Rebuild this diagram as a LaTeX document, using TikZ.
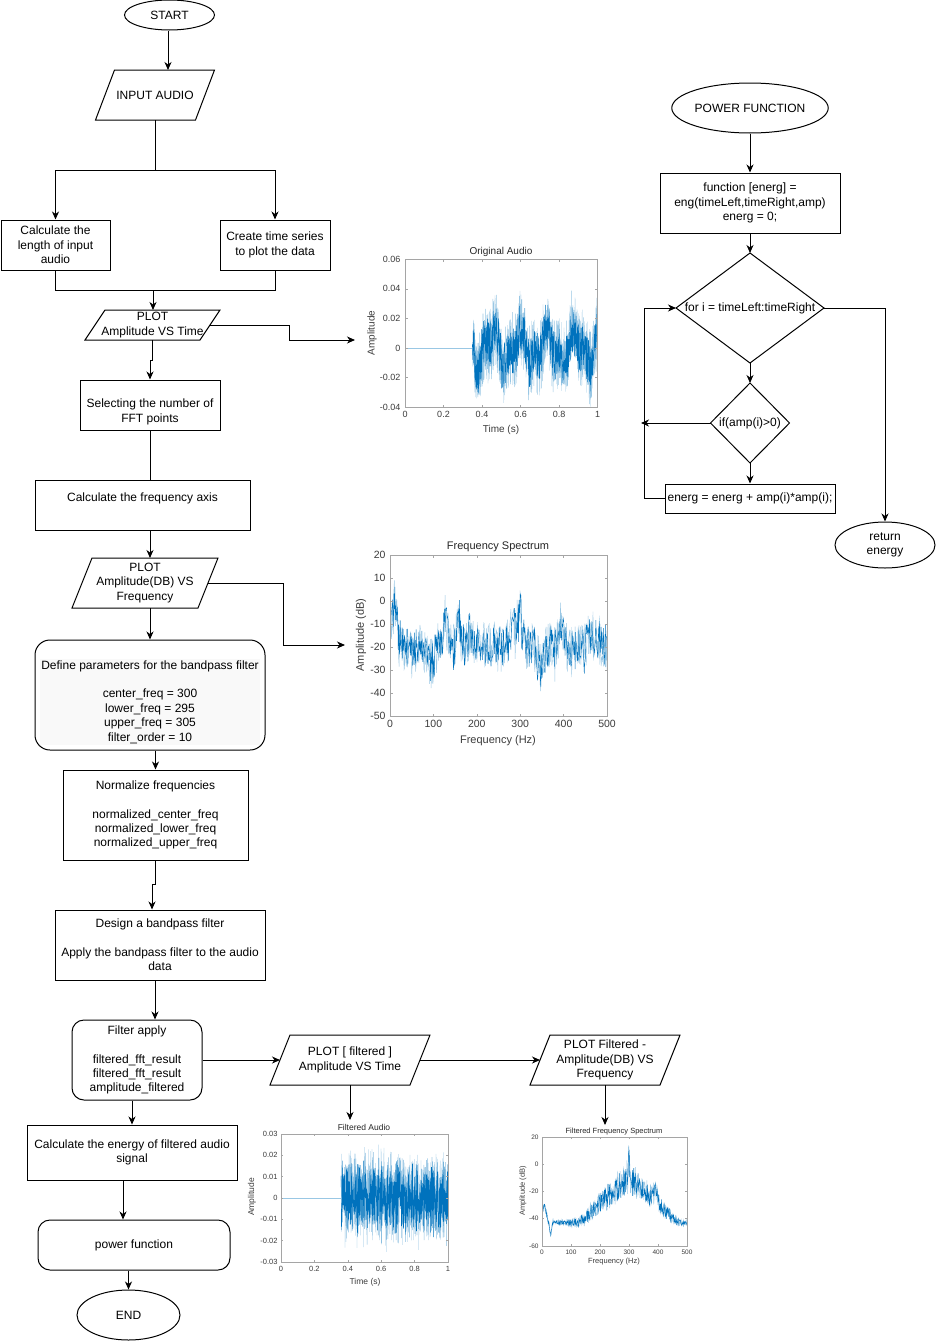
\documentclass[tikz,border=0pt]{standalone}
\usepackage{fontspec}
\setmainfont{Liberation Sans}
\usetikzlibrary{shapes.geometric,arrows.meta,calc}
\definecolor{sig}{RGB}{0,114,189}
\definecolor{axc}{RGB}{165,165,165}
\definecolor{tkc}{RGB}{60,60,60}
\pgfmathdeclarefunction{bump}{3}{\pgfmathparse{max(0,1-abs(#1-#2)/#3)}}
\newcommand\parashape[7]{%
  \draw ({#2-#4/2+#6/2},{#3-#5/2}) -- ({#2+#4/2+#6/2},{#3-#5/2}) -- ({#2+#4/2-#6/2},{#3+#5/2}) -- ({#2-#4/2-#6/2},{#3+#5/2}) -- cycle;
  \node[txt] (#1) at (#2,#3) {#7};
  \coordinate (#1-n) at (#2,{#3-#5/2});
  \coordinate (#1-s) at (#2,{#3+#5/2});
  \coordinate (#1-e) at ({#2+#4/2},#3);
  \coordinate (#1-w) at ({#2-#4/2},#3);
}
\newcommand\diashape[6]{%
  \draw (#2,{#3-#5}) -- ({#2+#4},#3) -- (#2,{#3+#5}) -- ({#2-#4},#3) -- cycle;
  \node[txt] (#1) at (#2,#3) {#6};
  \coordinate (#1-n) at (#2,{#3-#5});
  \coordinate (#1-s) at (#2,{#3+#5});
  \coordinate (#1-e) at ({#2+#4},#3);
  \coordinate (#1-w) at ({#2-#4},#3);
}
\begin{document}
\begin{tikzpicture}[x=1pt,y=-1pt, line width=1pt,
  arr/.style={-{Stealth[length=8pt,width=7pt,inset=2.5pt]}},
  txt/.style={align=center, inner sep=0pt, font=\fontsize{12}{14.4}\selectfont},
  box/.style={draw, rectangle, align=center, inner sep=0pt, font=\fontsize{12}{14.4}\selectfont},
  oval/.style={draw, ellipse, align=center, inner sep=0pt, font=\fontsize{12}{14.4}\selectfont},
  tk/.style={font=\fontsize{#1}{#1}\selectfont, text=tkc, inner sep=1pt},
  lab/.style={font=\fontsize{#1}{#1}\selectfont, text=tkc, inner sep=0pt},
  ttl/.style={font=\fontsize{#1}{#1}\selectfont, text=black!85, inner sep=0pt},
  axl/.style={axc, line width=0.6pt},
  tkl/.style={axc, line width=0.5pt}]
\useasboundingbox (0,0) rectangle (936,1341);
\fill[white] (0,0) rectangle (936,1341);

% ---------------- main flow ----------------
\node[oval, minimum width=90, minimum height=30] (start) at (169.5,15) {START};
\parashape{in}{155}{95}{100}{50}{19}{INPUT AUDIO}
\coordinate (split) at (155,170);
\node[box, minimum width=109, minimum height=50] (len) at (55.5,245) {Calculate the\\length of input\\audio};
\node[box, minimum width=110, minimum height=50] (ts) at (275,245) {Create time series\\to plot the data};
\coordinate (merge) at (153,290);
\parashape{p1}{152.5}{325}{115}{30}{20}{PLOT\\Amplitude VS Time}
\coordinate (g1in) at (355,340);
\node[box, minimum width=140, minimum height=50] (fft) at (150,405) {};
\node[txt] (fftt) at (150,412) {Selecting the number of\\FFT points};
\node[box, minimum width=215, minimum height=50] (fa) at (142.5,505) {};
\node[txt] (fat) at (142.5,498) {Calculate the frequency axis};
\parashape{p2}{145}{583}{126}{50}{20}{PLOT\\Amplitude(DB) VS\\Frequency}
\coordinate (g2in) at (345,645);
\node[txt, fill=black!2.5, inner sep=1.5pt] (deft) at (150,702) {Define parameters for the bandpass filter\\~\\center\_freq = 300\\lower\_freq = 295\\upper\_freq = 305\\filter\_order = 10};
\node[draw, rounded corners=15, minimum width=230, minimum height=110, inner sep=0pt] (def) at (150,695) {};
\node[box, minimum width=185, minimum height=90] (norm) at (155.5,815) {Normalize frequencies\\~\\normalized\_center\_freq\\normalized\_lower\_freq\\normalized\_upper\_freq};
\node[box, minimum width=210, minimum height=70] (design) at (160,945) {Design a bandpass filter\\~\\Apply the bandpass filter to the audio\\data};
\node[box, rounded corners=12, minimum width=130, minimum height=80] (fap) at (137,1060) {Filter apply\\~\\filtered\_fft\_result\\filtered\_fft\_result\\amplitude\_filtered};
\parashape{p3}{350}{1060}{140}{50}{20}{PLOT [ filtered ]\\Amplitude VS Time}
\parashape{p4}{605}{1060}{130}{50}{20}{PLOT Filtered -\\Amplitude(DB) VS\\Frequency}
\coordinate (g3in) at (350,1120);
\coordinate (g4in) at (605,1125);
\node[box, minimum width=210, minimum height=55] (en) at (132,1152.5) {Calculate the energy of filtered audio\\signal};
\node[box, rounded corners=12, minimum width=192, minimum height=50] (pw) at (134,1245) {power function};
\node[oval, minimum width=103, minimum height=50] (end) at (128.5,1315) {END};

% connectors main
\draw[arr] ($(start.south)+(-1.5,0)$) -- ($(start.south |- in-n)+(-1.5,0)$);
\draw (in-s) -- (split);
\draw[arr] (split) -| (len.north);
\draw[arr] (split) -| (ts.north);
\draw (len.south) |- (ts.south |- merge) -- (ts.south);
\draw[arr] (merge) -- (merge |- p1-n);
\draw[arr] (p1-e) -- ($(p1-e)+(79,0)$) |- (g1in);
\draw[arr] (p1-s) -- ++(0,20) -| (fft.north);
\draw (fft.south) -- (fft.south |- fa.north);
\draw[arr] (fft.south |- fa.south) -- (fft.south |- p2-n);
\draw[arr] (p2-e) -- ($(p2-e)+(75,0)$) |- (g2in);
\draw[arr] (fft.south |- p2-s) -- (fft.south |- def.north);
\draw[arr] (norm.north |- def.south) -- (norm.north);
\draw[arr] (norm.south) -- ++(0,24) -| ($(design.north)+(-8,0)$);
\draw[arr] ($(design.south)+(-5,0)$) -- ($(fap.north)+(18,0)$);
\draw[arr] (fap.east) -- (p3-w);
\draw[arr] (p3-e) -- (p4-w);
\draw[arr] (p3-s) -- (g3in);
\draw[arr] (p4-s) -- (g4in);
\draw[arr] (en.north |- fap.south) -- (en.north);
\draw[arr] ($(en.south)+(-9,0)$) -- ($(pw.north)+(-11,0)$);
\draw[arr] (end.north |- pw.south) -- (end.north);

% ---------------- power function ----------------
\node[oval, minimum width=120, minimum height=50] (pf) at (750,108) {POWER FUNCTION};
\node[box, minimum width=180, minimum height=60] (fb) at (750,203) {function [energ] =\\eng(timeLeft,timeRight,amp)\\energ = 0;};
\diashape{d1}{750}{308}{74}{55}{for i = timeLeft:timeRight}
\diashape{d2}{750}{423}{39.5}{40}{if(amp(i)>0)}
\node[box, minimum width=170, minimum height=29] (eb) at (750,498.5) {energ = energ + amp(i)*amp(i);};
\node[oval, minimum width=100, minimum height=46] (ret) at (885,545) {return\\energy};
\coordinate (lp) at (641,423);
\draw[arr] (pf.south) -- (fb.north);
\draw[arr] (fb.south) -- (d1-n);
\draw[arr] (d1-s) -- (d2-n);
\draw[arr] (d2-s) -- (eb.north);
\draw[arr] (eb.west) -- ++(-20,0) |- (d1-w);
\draw[arr] (d2-w) -- (lp);
\draw[arr] (d1-e) -| (ret.north);

% ---------------- plot 1: Original Audio ----------------
\pgfmathsetseed{11}
\begin{scope}
\clip (405,259) rectangle (597.5,407);
\begin{scope}[shift={(405,348)}, xscale=192.5, yscale=-1480]
 \draw[sig!40, line width=0.5pt] (0,0) -- (0.35,0);
 \draw[sig!40, line width=0.35pt] plot[domain=0.35:1, samples=700] (\x,{0.009*sin(\x*2520+30)+0.006*sin(\x*5500)+0.026*rand});
 \draw[sig, line width=0.35pt] plot[domain=0.35:1, samples=700] (\x,{0.009*sin(\x*2520+30)+0.006*sin(\x*5500)+0.017*rand});
\end{scope}
\end{scope}
\draw[axl] (405,259) rectangle (597.5,407);
\foreach \v [count=\i] in {0.06,0.04,0.02,0,-0.02,-0.04}{
  \pgfmathsetmacro\yy{348-\v*1480}
  \draw[tkl] (405,\yy) -- ++(2.5,0) (597.5,\yy) -- ++(-2.5,0);
  \node[tk=9, anchor=east] (g1y\i) at (402,\yy) {\v};
}
\foreach \v [count=\i] in {0,0.2,0.4,0.6,0.8,1}{
  \pgfmathsetmacro\xx{405+\v*192.5}
  \draw[tkl] (\xx,407) -- ++(0,-2.5) (\xx,259) -- ++(0,2.5);
  \node[tk=9, anchor=north] (g1x\i) at (\xx,410) {\v};
}
\node[ttl=10] (g1t) at (501,251.5) {Original Audio};
\node[lab=10] (g1xl) at (501,430) {Time (s)};
\node[lab=10, rotate=90] (g1yl) at (372,333) {Amplitude};

% ---------------- plot 2: Frequency Spectrum ----------------
\pgfmathsetseed{23}
\begin{scope}
\clip (390,555) rectangle (607,716);
\begin{scope}[shift={(390,601)}, xscale=0.434, yscale=-2.3]
 \draw[sig!40, line width=0.4pt] plot[domain=0:500, samples=450] (\x,{-20 + 11*rand - 60*max(0,rand-0.88) + 20*bump(\x,10,12) + 14*bump(\x,128,8) + 12*bump(\x,160,12) + 8*bump(\x,185,10) + 12*bump(\x,292,25) + 18*bump(\x,300,3) + 12*bump(\x,395,12) - 8*bump(\x,92,20) - 10*bump(\x,348,12) + 5*bump(\x,470,30) + 4*bump(\x,25,5)});
 \draw[sig, line width=0.4pt] plot[domain=0:500, samples=450] (\x,{-20 + 9*rand - 60*max(0,rand-0.9) + 20*bump(\x,10,12) + 14*bump(\x,128,8) + 12*bump(\x,160,12) + 8*bump(\x,185,10) + 12*bump(\x,292,25) + 22*bump(\x,300,3) + 12*bump(\x,395,12) - 8*bump(\x,92,20) - 10*bump(\x,348,12) + 5*bump(\x,470,30) + 4*bump(\x,25,5)});
\end{scope}
\end{scope}
\draw[axl] (390,555) rectangle (607,716);
\foreach \v [count=\i] in {20,10,0,-10,-20,-30,-40,-50}{
  \pgfmathsetmacro\yy{601-\v*2.3}
  \draw[tkl] (390,\yy) -- ++(2.5,0) (607,\yy) -- ++(-2.5,0);
  \node[tk=10.5, anchor=east] (g2y\i) at (387,\yy) {\v};
}
\foreach \v [count=\i] in {0,100,200,300,400,500}{
  \pgfmathsetmacro\xx{390+\v*0.434}
  \draw[tkl] (\xx,716) -- ++(0,-2.5) (\xx,555) -- ++(0,2.5);
  \node[tk=10.5, anchor=north] (g2x\i) at (\xx,719) {\v};
}
\node[ttl=11] (g2t) at (498,547) {Frequency Spectrum};
\node[lab=11] (g2xl) at (498,741) {Frequency (Hz)};
\node[lab=11, rotate=90] (g2yl) at (361,635) {Amplitude (dB)};

% ---------------- plot 3: Filtered Audio ----------------
\pgfmathsetseed{37}
\begin{scope}
\clip (281,1134) rectangle (448,1262);
\begin{scope}[shift={(281,1198)}, xscale=167, yscale=-2133]
 \draw[sig!40, line width=0.5pt] (0,0) -- (0.36,0);
 \draw[sig!45, line width=0.3pt] plot[domain=0.36:1, samples=900] (\x,{0.015*rand+0.011*rand});
 \draw[sig, line width=0.3pt] plot[domain=0.36:1, samples=900] (\x,{0.012*rand+0.008*rand});
\end{scope}
\end{scope}
\draw[axl] (281,1134) rectangle (448,1262);
\foreach \v [count=\i] in {0.03,0.02,0.01,0,-0.01,-0.02,-0.03}{
  \pgfmathsetmacro\yy{1198-\v*2133}
  \draw[tkl] (281,\yy) -- ++(2,0) (448,\yy) -- ++(-2,0);
  \node[tk=7.5, anchor=east] (g3y\i) at (279,\yy) {\v};
}
\foreach \v [count=\i] in {0,0.2,0.4,0.6,0.8,1}{
  \pgfmathsetmacro\xx{281+\v*167}
  \draw[tkl] (\xx,1262) -- ++(0,-2) (\xx,1134) -- ++(0,2);
  \node[tk=7.5, anchor=north] (g3x\i) at (\xx,1264.5) {\v};
}
\node[ttl=8.5] (g3t) at (364,1127) {Filtered Audio};
\node[lab=8.5] (g3xl) at (365,1282) {Time (s)};
\node[lab=8.5, rotate=90] (g3yl) at (252,1197) {Amplitude};

% ---------------- plot 4: Filtered Frequency Spectrum ----------------
\pgfmathsetseed{51}
\begin{scope}
\clip (542,1137) rectangle (687,1246);
\begin{scope}[shift={(542,1164)}, xscale=0.29, yscale=-1.3625]
 \draw[sig!40, line width=0.4pt] plot[domain=0:500, samples=380] (\x,{-43 + 34*bump(\x,300,170) + 14*bump(\x,8,14) - 10*bump(\x,30,6) + (2+12*bump(\x,290,210))*rand + 18*bump(\x,300,4) + 8*bump(\x,392,15)});
 \draw[sig, line width=0.4pt] plot[domain=0:500, samples=380] (\x,{-43 + 34*bump(\x,300,170) + 14*bump(\x,8,14) - 10*bump(\x,30,6) + (1.5+10*bump(\x,290,210))*rand - 30*max(0,rand-0.9) + 21*bump(\x,300,4) + 8*bump(\x,392,15)});
\end{scope}
\end{scope}
\draw[axl] (542,1137) rectangle (687,1246);
\foreach \v [count=\i] in {20,0,-20,-40,-60}{
  \pgfmathsetmacro\yy{1164-\v*1.3625}
  \draw[tkl] (542,\yy) -- ++(1.8,0) (687,\yy) -- ++(-1.8,0);
  \node[tk=6.5, anchor=east] (g4y\i) at (540,\yy) {\v};
}
\foreach \v [count=\i] in {0,100,200,300,400,500}{
  \pgfmathsetmacro\xx{542+\v*0.29}
  \draw[tkl] (\xx,1246) -- ++(0,-1.8) (\xx,1137) -- ++(0,1.8);
  \node[tk=6.5, anchor=north] (g4x\i) at (\xx,1248) {\v};
}
\node[ttl=7.5] (g4t) at (614,1132) {Filtered Frequency Spectrum};
\node[lab=7.5] (g4xl) at (614,1262) {Frequency (Hz)};
\node[lab=7.5, rotate=90] (g4yl) at (523,1191) {Amplitude (dB)};
\end{tikzpicture}
\end{document}
